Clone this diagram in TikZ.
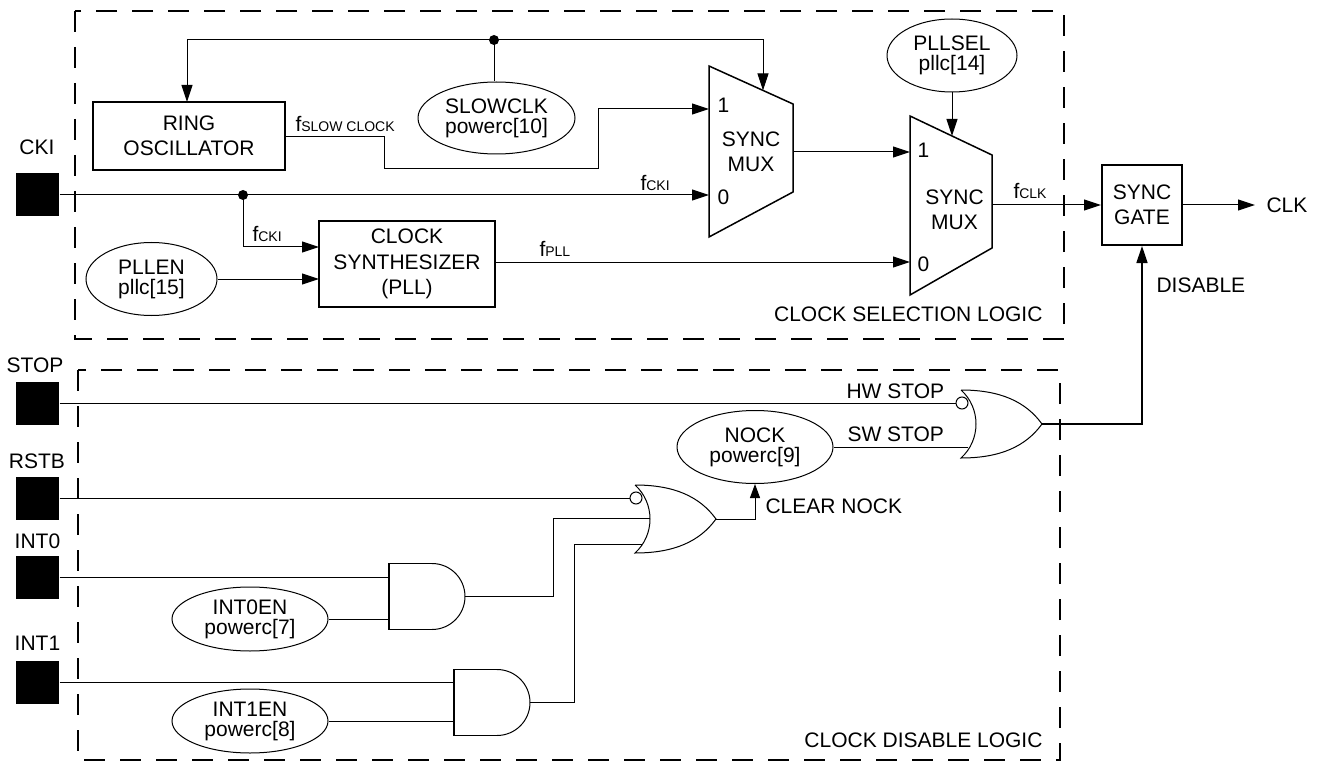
\documentclass[tikz,border=0pt]{standalone}
\usepackage{fontspec}
\setmainfont{Liberation Sans}
\usetikzlibrary{shapes.geometric,arrows.meta}
\newcommand{\smallsub}[1]{{\fontsize{14}{14}\selectfont #1}}
\begin{document}
\begin{tikzpicture}[x=1pt,y=-1pt,line width=1pt,
 every node/.style={font=\fontsize{21}{25.5}\selectfont,inner sep=0pt},
 arr/.style={-{Triangle[length=17pt,width=11pt]}},
 blk/.style={draw,line width=2pt,align=center},
 reg/.style={draw,ellipse,line width=1pt,align=center,font=\fontsize{21}{20}\selectfont,inner sep=0pt},
 pad/.style={fill=black,minimum size=43pt,inner sep=0pt},
 dashbox/.style={dash pattern=on 21pt off 15pt,line width=2pt},
 lbl/.style={anchor=base west},
 dot/.style={circle,fill=black,minimum size=10pt,inner sep=0pt},
 bub/.style={circle,draw,fill=white,minimum size=12pt,inner sep=0pt,line width=1pt},
 orgate/.pic={
  \draw[line width=1pt] (0,-34) .. controls (40,-34) and (65,-22) .. (81,0)
    .. controls (65,22) and (40,34) .. (0,34) .. controls (20,16) and (20,-16) .. (0,-34);
  \coordinate (-out) at (81,0);
 },
 andgate/.pic={
  \draw[line width=1.8pt] (43,-33) -- (0,-33) -- (0,33) -- (43,33);
  \draw[line width=1pt] (43,-33) .. controls (61.2,-33) and (76,-18.2) .. (76,0)
    .. controls (76,18.2) and (61.2,33) .. (43,33);
  \coordinate (-out) at (76,0);
 }
]
\useasboundingbox (0,0) rectangle (1328,762);

% dashed regions
\draw[dashbox] (75,11) rectangle (1064,339);
\draw[dashbox] (78,370) rectangle (1060,760);
\node[anchor=base east] (sellbl) at (1043,321) {CLOCK SELECTION LOGIC};
\node[anchor=base east] (dislbl) at (1043,747) {CLOCK DISABLE LOGIC};

% pads
\node[pad] (cki) at (37.5,195) {};
\node (ckil) at (37,147) {CKI};
\node[pad] (stop) at (37.5,403) {};
\node (stopl) at (35,365) {STOP};
\node[pad] (rstb) at (37.5,498) {};
\node (rstbl) at (37,461) {RSTB};
\node[pad] (int0) at (37.5,577) {};
\node (int0l) at (37.5,541) {INT0};
\node[pad] (int1) at (37.5,682) {};
\node (int1l) at (37.5,643) {INT1};

% blocks
\node[blk,minimum width=192pt,minimum height=68pt] (ring) at (189,136) {RING\\OSCILLATOR};
\node[blk,minimum width=176pt,minimum height=86pt] (synth) at (407,264) {CLOCK\\SYNTHESIZER\\(PLL)};
\node[blk,minimum width=80pt,minimum height=80pt] (gate) at (1142,205) {SYNC\\GATE};

% register ellipses
\node[reg,minimum width=157pt,minimum height=72pt] (slow) at (496.5,118) {SLOWCLK\\powerc[10]};
\node[reg,minimum width=131pt,minimum height=73pt] (pllen) at (151.5,279) {PLLEN\\pllc[15]};
\node[reg,minimum width=130pt,minimum height=73pt] (pllsel) at (952,55.5) {PLLSEL\\pllc[14]};
\node[reg,minimum width=156pt,minimum height=73pt] (nock) at (755,447) {NOCK\\powerc[9]};
\node[reg,minimum width=156pt,minimum height=64pt] (int0en) at (250,619) {INT0EN\\powerc[7]};
\node[reg,minimum width=156pt,minimum height=64pt] (int1en) at (250,721) {INT1EN\\powerc[8]};

% muxes
\draw[line width=1.5pt] (709,66) -- (793,104) -- (793,192) -- (709,237) -- cycle;
\node[align=center] (mux1) at (751,152) {SYNC\\MUX};
\node[lbl] (m1one) at (717,113) {1};
\node[lbl] (m1zero) at (717,205) {0};
\coordinate (m1in1) at (709,109);
\coordinate (m1in0) at (709,195);
\coordinate (m1out) at (793,152);
\coordinate (m1sel) at (763,90.4);

\draw[line width=1.5pt] (910,116) -- (992,155) -- (992,248) -- (910,295) -- cycle;
\node[align=center] (mux2) at (954.5,210) {SYNC\\MUX};
\node[lbl] (m2one) at (917,158) {1};
\node[lbl] (m2zero) at (917,272) {0};
\coordinate (m2in1) at (910,152);
\coordinate (m2in0) at (910,262);
\coordinate (m2out) at (992,205);
\coordinate (m2sel) at (952,136);

% clock selection wiring
\node[dot] (d1) at (243,195) {};
\node[dot] (d2) at (494,40) {};
\coordinate (rin) at (187,102);
\coordinate (rout) at (285,137);
\coordinate (sin1) at (319,247);
\coordinate (sin2) at (319,279);
\coordinate (sout) at (495,262);

\draw[arr] (cki.east) -- (m1in0);
\draw[arr] (d1.center) |- (sin1);
\draw[arr] (pllen.east) -- (sin2);
\draw[arr] (d2.center) -| (rin);
\draw[arr] (d2.center) -| (m1sel);
\draw (d2.center) -- (d2 |- slow.north);
\draw[arr] (rout) -- (384,137) -- (384,169) -- (598,169) -- (598,109) -- (m1in1);
\draw[arr] (m1out) -- (m2in1);
\draw[arr] (sout) -- (m2in0);
\draw[arr] (pllsel.south) -- (m2sel);
\draw[arr] (m2out) -- (gate.west);
\node[anchor=west,inner xsep=11pt] (clk) at (1255,205) {CLK};
\draw[arr] (gate.east) -- (clk.west);

\node[lbl] (fslow) at (295,132) {f\smallsub{SLOW CLOCK}};
\node[lbl] (fcki1) at (640,191) {f\smallsub{CKI}};
\node[lbl] (fcki2) at (252,242) {f\smallsub{CKI}};
\node[lbl] (fpll) at (539,257) {f\smallsub{PLL}};
\node[lbl] (fclk) at (1013,199) {f\smallsub{CLK}};

% clock disable logic
\pic (or2) at (961,424) {orgate};
\node[bub] (or2bub) at (962,403) {};
\coordinate (or2b) at (968,447);
\pic (or1) at (635,519) {orgate};
\node[bub] (or1bub) at (636,498) {};
\coordinate (or1b) at (650,518);
\coordinate (or1c) at (642,544);
\pic (and0) at (389,596.5) {andgate};
\pic (and1) at (454,702.5) {andgate};
\coordinate (and0a) at (389,577);
\coordinate (and0b) at (389,619);
\coordinate (and1a) at (454,682);
\coordinate (and1b) at (454,721);

\draw (stop.east) -- (or2bub.west);
\draw (nock.east) -- (or2b);
\draw (rstb.east) -- (or1bub.west);
\draw (int0.east) -- (and0a);
\draw (int0en.east) -- (and0b);
\draw (int1.east) -- (and1a);
\draw (int1en.east) -- (and1b);
\draw (and0-out) -- (553,596.5) -- (553,518) -- (or1b);
\draw (and1-out) -- (574,702.5) -- (574,544) -- (or1c);
\draw[arr,-{Triangle[length=14pt,width=10pt]}] (or1-out) -| (nock.south);
\draw[arr,line width=1.5pt] (or2-out) -| (gate.south);

\node[lbl] (hw) at (846,398) {HW STOP};
\node[lbl] (sw) at (847,441) {SW STOP};
\node[lbl] (clr) at (765,513) {CLEAR NOCK};
\node[anchor=west] (dis) at (1156,285) {DISABLE};
\end{tikzpicture}
\end{document}
